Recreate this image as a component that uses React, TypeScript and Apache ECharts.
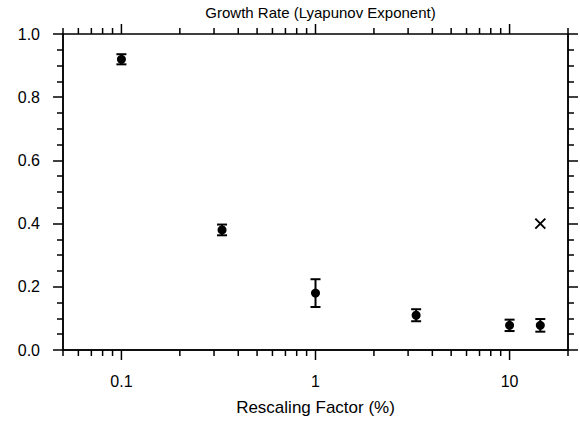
import React, { useEffect, useRef } from "react";
import * as echarts from "echarts";

const title = "Growth Rate (Lyapunov Exponent)";
const xAxisName = "Rescaling Factor (%)";
const xValues = [0.1, 0.33, 1, 3.3, 10, 14.4];
const yMeans = [0.92, 0.38, 0.18, 0.11, 0.078, 0.078];
const yErrors = [0.016, 0.017, 0.044, 0.019, 0.018, 0.02];
const crossPoint = [[14.4, 0.4]];
const xMajorTicks = [0.1, 1, 10];
const xMinorTicks = [0.05, 0.06, 0.07, 0.08, 0.09, 0.2, 0.3, 0.4, 0.5, 0.6, 0.7, 0.8, 0.9, 2, 3, 4, 5, 6, 7, 8, 9, 20];

const FONT = "'Liberation Sans', Arial, Helvetica, sans-serif";

export default function App() {
  const ref = useRef<HTMLDivElement>(null);
  useEffect(() => {
    if (!ref.current) return;
    const chart = echarts.init(ref.current, null, { renderer: "svg" });
    const tickData = [
      ...xMajorTicks.map((v) => [v, 1]),
      ...xMinorTicks.map((v) => [v, 0]),
    ];
    const errData = xValues.map((x, i) => [x, yMeans[i], yMeans[i] - yErrors[i], yMeans[i] + yErrors[i]]);
    const pts = xValues.map((x, i) => [x, yMeans[i]]);
    const lineStyle = { stroke: "#000", lineWidth: 1.5 };
    const yAxisCommon = {
      type: "value" as const,
      min: 0,
      max: 1,
      interval: 0.2,
      splitLine: { show: false },
      axisLine: { show: true, lineStyle: { color: "#000", width: 1.5 } },
      axisTick: { show: true, inside: false, length: 10, lineStyle: { color: "#000", width: 1.5 } },
      minorTick: { show: true, splitNumber: 4, length: 6, lineStyle: { color: "#000", width: 1.5 } },
    };
    chart.setOption({
      animation: false,
      title: {
        text: title,
        left: 315.5,
        textAlign: "center",
        top: 0,
        textStyle: { fontFamily: FONT, fontSize: 15, fontWeight: "normal", color: "#000" },
      },
      grid: { left: 63, right: 12, top: 34, bottom: 71, show: true, borderColor: "#000", borderWidth: 1.5 },
      xAxis: {
        type: "log",
        logBase: 10,
        min: 0.05,
        max: 20,
        name: xAxisName,
        nameLocation: "middle",
        nameGap: 49,
        nameTextStyle: { fontFamily: FONT, fontSize: 17, color: "#000" },
        splitLine: { show: false },
        axisLine: { show: true, lineStyle: { color: "#000", width: 1.5 } },
        axisTick: { show: false },
        minorTick: { show: false },
        axisLabel: {
          margin: 23,
          fontFamily: FONT,
          fontSize: 16,
          color: "#000",
          showMinLabel: false,
          showMaxLabel: false,
          formatter: (v: number) => {
            const l = Math.log10(v);
            const r = Math.round(l);
            if (Math.abs(l - r) > 1e-6) return "";
            return String(Number(Math.pow(10, r).toPrecision(6)));
          },
        },
      },
      yAxis: [
        {
          ...yAxisCommon,
          position: "left",
          axisLabel: {
            margin: 23,
            fontFamily: FONT,
            fontSize: 16,
            color: "#000",
            formatter: (v: number) => v.toFixed(1),
          },
        },
        {
          ...yAxisCommon,
          position: "right",
          axisLabel: { show: false },
        },
      ],
      series: [
        {
          type: "custom",
          clip: false,
          silent: true,
          data: tickData,
          encode: { x: 0, y: 1 },
          renderItem: (params: any, api: any) => {
            const x = api.value(0);
            const major = api.value(1) === 1;
            const len = major ? 10 : 6;
            const pb = api.coord([x, 0]);
            const pt = api.coord([x, 1]);
            return {
              type: "group",
              children: [
                { type: "line", shape: { x1: pb[0], y1: pb[1], x2: pb[0], y2: pb[1] + len }, style: lineStyle },
                { type: "line", shape: { x1: pt[0], y1: pt[1], x2: pt[0], y2: pt[1] - len }, style: lineStyle },
              ],
            };
          },
        },
        {
          type: "custom",
          silent: true,
          data: errData,
          encode: { x: 0, y: 1 },
          renderItem: (params: any, api: any) => {
            const x = api.value(0);
            const lo = api.coord([x, api.value(2)]);
            const hi = api.coord([x, api.value(3)]);
            const w = 5;
            return {
              type: "group",
              children: [
                { type: "line", shape: { x1: lo[0], y1: lo[1], x2: hi[0], y2: hi[1] }, style: { stroke: "#000", lineWidth: 2 } },
                { type: "line", shape: { x1: lo[0] - w, y1: lo[1], x2: lo[0] + w, y2: lo[1] }, style: { stroke: "#000", lineWidth: 2 } },
                { type: "line", shape: { x1: hi[0] - w, y1: hi[1], x2: hi[0] + w, y2: hi[1] }, style: { stroke: "#000", lineWidth: 2 } },
              ],
            };
          },
        },
        {
          type: "scatter",
          data: pts,
          symbol: "circle",
          symbolSize: 9,
          itemStyle: { color: "#000", opacity: 1 },
          silent: true,
        },
        {
          type: "custom",
          silent: true,
          data: crossPoint,
          encode: { x: 0, y: 1 },
          renderItem: (params: any, api: any) => {
            const c = api.coord([api.value(0), api.value(1)]);
            const s = 5;
            return {
              type: "group",
              children: [
                { type: "line", shape: { x1: c[0] - s, y1: c[1] - s, x2: c[0] + s, y2: c[1] + s }, style: { stroke: "#000", lineWidth: 2 } },
                { type: "line", shape: { x1: c[0] - s, y1: c[1] + s, x2: c[0] + s, y2: c[1] - s }, style: { stroke: "#000", lineWidth: 2 } },
              ],
            };
          },
        },
      ],
    });
    return () => chart.dispose();
  }, []);
  return (
    <div
      ref={ref}
      style={{ position: "fixed", left: 0, top: 0, width: 580, height: 421, background: "#fff" }}
    />
  );
}
